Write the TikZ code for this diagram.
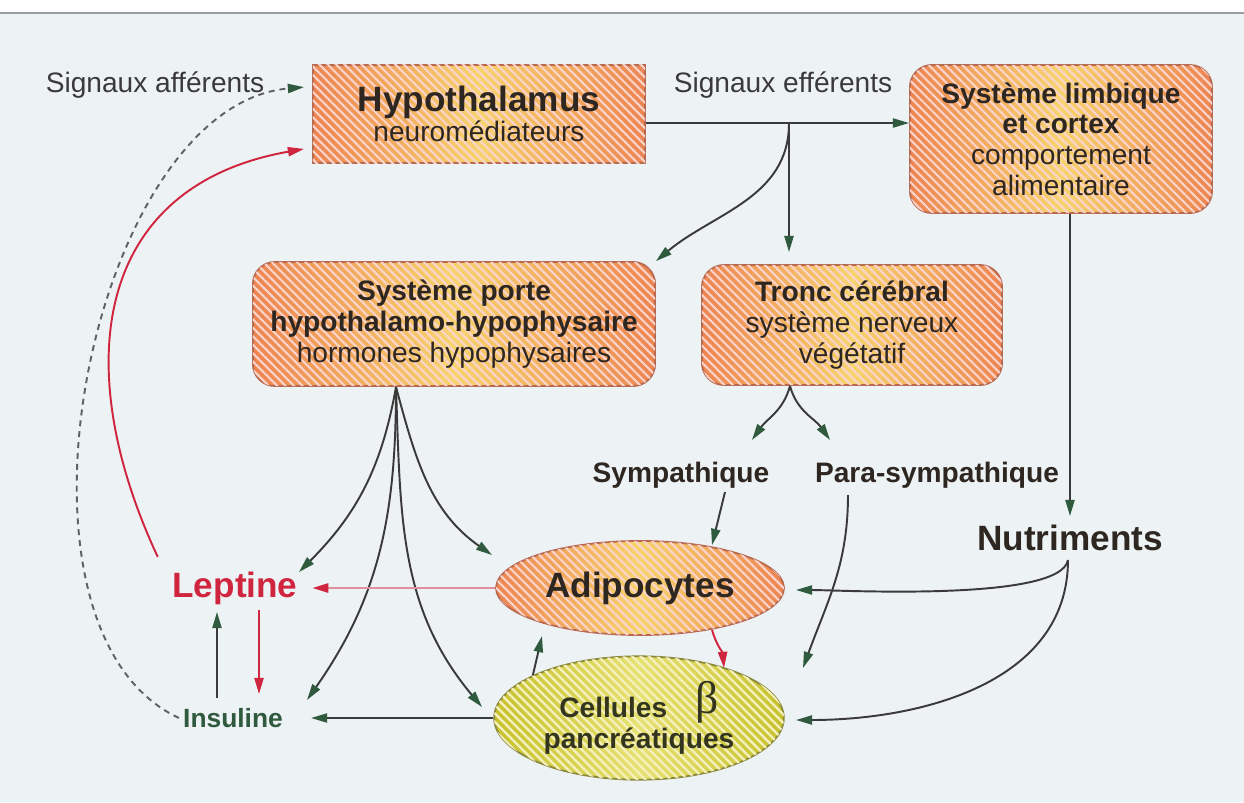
\documentclass[tikz,border=0pt]{standalone}
\usepackage{fontspec}
\setmainfont{Liberation Sans}
\newfontfamily\grec{Liberation Serif}
\usepackage{xcolor}
\definecolor{fondbleu}{HTML}{EDF2F4}
\definecolor{filet}{HTML}{9A9C9E}
\definecolor{orbord}{HTML}{EE8450}
\definecolor{orjaune}{HTML}{F6D46C}
\definecolor{orhachure}{HTML}{FBD4CC}
\definecolor{orcontour}{HTML}{B86A50}
\definecolor{vertbord}{HTML}{C6C22C}
\definecolor{vertjaune}{HTML}{E6E270}
\definecolor{verthachure}{HTML}{F4F2B8}
\definecolor{vertcontour}{HTML}{8A8A3A}
\definecolor{textebrun}{HTML}{2E2620}
\definecolor{texteolive}{HTML}{33351E}
\definecolor{trait}{HTML}{3A3A3A}
\definecolor{pointe}{HTML}{2F5A3E}
\definecolor{rouge}{HTML}{D0253E}
\definecolor{rose}{HTML}{E2909E}
\usepackage{tikz}
\usetikzlibrary{shapes.geometric, arrows.meta, positioning, calc, patterns.meta}

\begin{document}
\begin{tikzpicture}[x=0.01cm, y=-0.01cm,
  hachure/.style={postaction={pattern color=#1, fill opacity=0.6,
    pattern={Lines[angle=-45, distance=1.7pt, line width=0.6pt]}}},
  bloc/.style={rectangle, draw=orcontour, line width=0.5pt,
    left color=orbord, right color=orbord, middle color=orjaune, hachure=orhachure,
    align=center, text=textebrun, inner sep=2pt, font=\fontsize{8}{8.7}\selectfont},
  ovale/.style={bloc, ellipse},
  etiq/.style={text=trait, inner sep=1pt, font=\fontsize{8}{9}\selectfont},
  gras/.style={text=textebrun, inner sep=1pt, font=\fontsize{8}{9}\selectfont\bfseries},
  fl/.style={draw=trait, line width=0.55pt, -{Triangle[length=4.6pt, width=2.6pt, color=pointe]}},
  flr/.style={draw=rouge, line width=0.55pt, -{Triangle[length=4.6pt, width=2.6pt]}}
]
\useasboundingbox (0,0) rectangle (1244,802);
\fill[white] (0,0) rectangle (1244,802);
\fill[fondbleu] (0,14) rectangle (1244,802);
\draw[filet, line width=0.6pt] (0,13) -- (1244,13);

\node[bloc, minimum width=3.32cm, minimum height=0.98cm] (hyp) at (479,114)
  {{\fontsize{10}{12}\selectfont\bfseries Hypothalamus}\\neuromédiateurs};
\node[bloc, rounded corners=0.22cm, minimum width=3.02cm, minimum height=1.48cm] (limb) at (1061,139)
  {\textbf{Système limbique}\\\textbf{et cortex}\\comportement\\alimentaire};
\node[bloc, rounded corners=0.22cm, minimum width=4.02cm, minimum height=1.24cm] (porte) at (454,324)
  {\textbf{Système porte}\\\textbf{hypothalamo-hypophysaire}\\hormones hypophysaires};
\node[bloc, rounded corners=0.22cm, minimum width=3.0cm, minimum height=1.2cm] (tronc) at (852,325)
  {\textbf{Tronc cérébral}\\système nerveux\\végétatif};
\node[ovale, minimum width=2.76cm, minimum height=0.94cm, font=\fontsize{10}{12}\selectfont\bfseries] (adipo) at (640,588) {Adipocytes};
\node[ovale, draw=vertcontour, left color=vertbord, right color=vertbord, middle color=vertjaune,
  hachure=verthachure, text=texteolive, minimum width=2.78cm, minimum height=1.0cm,
  font=\fontsize{8}{9}\selectfont\bfseries] (cell) at (639,718)
  {Cellules\quad\raisebox{1pt}{\grec\mdseries\fontsize{13}{9}\selectfont β}\\pancréatiques};

\node[etiq] (aff) at (155,85) {Signaux afférents};
\node[etiq] (eff) at (783,85) {Signaux efférents};
\node[gras] (symp) at (681,475) {Sympathique};
\node[gras] (para) at (937,475) {Para-sympathique};
\node[gras, font=\fontsize{10}{12}\selectfont\bfseries] (nutr) at (1070,538) {Nutriments};
\node[gras, text=rouge, font=\fontsize{10}{12}\selectfont\bfseries, inner sep=4pt] (lept) at (235,588) {Leptine};
\node[gras, text=pointe, font=\fontsize{7.5}{9}\selectfont\bfseries] (insu) at (233,718) {Insuline};

\coordinate (br) at (789,123);
\draw[fl] (hyp.east |- br) -- (limb.west |- br);
\draw[fl, shorten >=0.12cm] (br) -- (tronc.north -| br);
\draw[fl] (br) to[out=-90, in=40] (porte.north east);

\coordinate (tb) at ($(tronc.south)+(-62,0)$);
\draw[fl] (tb) to[out=-105, in=55] ($(symp)+(71,-35)$);
\draw[fl] (tb) to[out=-75, in=125] ($(para)+(-107,-35)$);
\draw[fl] ($(symp)+(44,17)$) -- ($(adipo)+(72,-43)$);
\draw[fl] ($(para)+(-89,20)$) to[out=-90, in=70] ($(cell)+(164,-50)$);

\draw[fl] (limb.south -| nutr) -- ($(nutr)+(0,-22)$);
\draw[fl] ($(nutr)+(-2,22)$) to[out=-100, in=0, looseness=0.4] ($(adipo)+(156,2)$);
\draw[fl] ($(nutr)+(-2,22)$) to[out=-90, in=0] ($(cell)+(157,2)$);

\coordinate (pb) at ($(porte.south)+(-58,0)$);
\draw[fl] (pb) to[out=-100, in=45] ($(lept)+(64,-16)$);
\draw[fl] (pb) to[out=-75, in=145] ($(adipo)+(-148,-33)$);
\draw[fl] (pb) to[out=-90, in=55] ($(insu)+(74,-18)$);
\draw[fl] (pb) to[out=-88, in=130] ($(cell)+(-157,-11)$);

\draw[draw=rose, line width=0.7pt, -{Triangle[length=4.6pt, width=2.6pt, color=rouge]}] (adipo.west) -- (lept.east);
\draw[fl, shorten >=0.24cm] (cell.west) -- (insu.east);
\draw[flr] ($(lept)+(24,22)$) -- ($(insu)+(26,-24)$);
\draw[fl] ($(insu)+(-16,-20)$) -- ($(lept)+(-18,24)$);
\draw[flr] (adipo.-30) to[out=-75, in=95] ($(cell)+(85,-50)$);
\draw[fl] (cell.158) -- ($(adipo)+(-98,48)$);

\draw[flr] (lept.north west) to[out=115, in=190, looseness=1.25] ($(hyp.south west)+(-8,-15)$);
\draw[fl, draw=trait!80, dash pattern=on 1.7pt off 1.4pt] (insu.west) to[out=155, in=185, looseness=0.85] ($(hyp.north west)+(-8,23)$);
\end{tikzpicture}
\end{document}
